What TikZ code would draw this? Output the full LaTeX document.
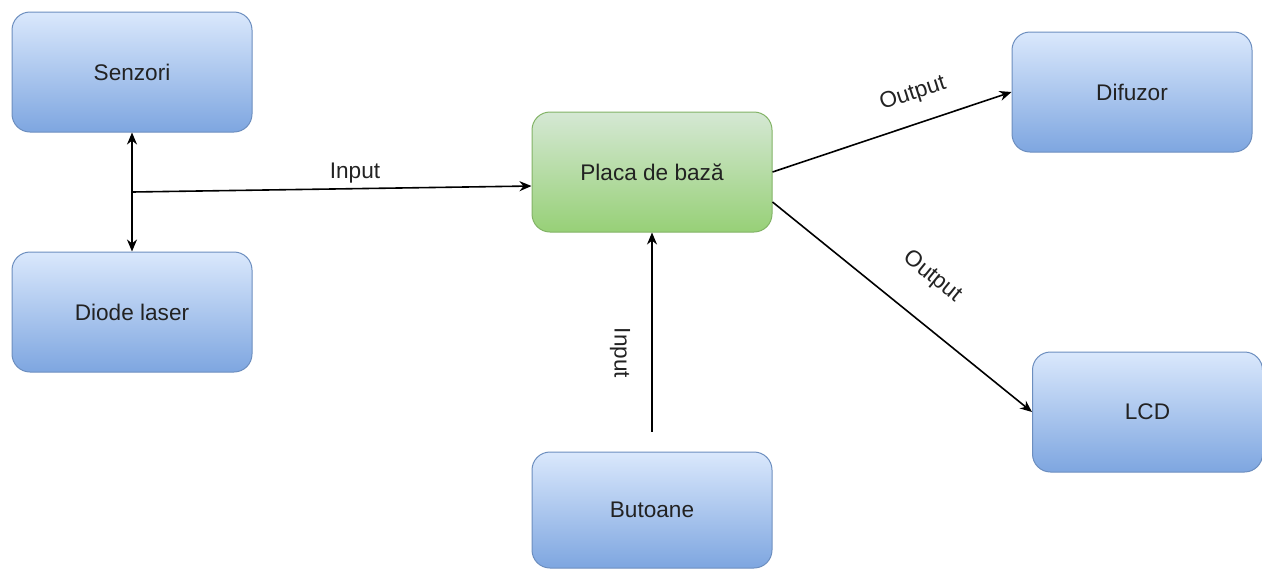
\documentclass[tikz,border=0pt]{standalone}
\usepackage{fontspec}
\setmainfont{Liberation Sans}
\usetikzlibrary{arrows.meta}
\definecolor{bluetop}{HTML}{DAE8FC}
\definecolor{bluebot}{HTML}{7EA6E0}
\definecolor{blueline}{HTML}{6C8EBF}
\definecolor{greentop}{HTML}{D5E8D4}
\definecolor{greenbot}{HTML}{97D077}
\definecolor{greenline}{HTML}{82B366}
\definecolor{txt}{HTML}{222222}
\begin{document}
\begin{tikzpicture}[x = 0.5pt, y = -0.5pt,
  font = \fontsize{11.3}{13.5}\selectfont,
  > = {Stealth[length = 6pt, width = 5pt]},
  bluebox/.style = {draw = blueline, line width = 0.5pt, rounded corners = 9pt,
    top color = bluetop, bottom color = bluebot, text = txt,
    minimum width = 120pt, minimum height = 60pt, inner sep = 0pt},
  greenbox/.style = {bluebox, draw = greenline,
    top color = greentop, bottom color = greenbot},
  lbl/.style = {text = txt, inner sep = 1pt},
  conn/.style = {line width = 0.8pt, ->}]
\useasboundingbox (0, 0) rectangle (1262, 569);

\node[bluebox] (senzori) at (132, 72) {Senzori};
\node[bluebox] (diode) at (132, 312) {Diode laser};
\node[greenbox] (placa) at (652, 172) {Placa de bază};
\node[bluebox] (difuzor) at (1132, 92) {Difuzor};
\node[bluebox, minimum width = 115pt] (lcd) at (1147.5, 412) {LCD};
\node[bluebox, minimum height = 58pt] (butoane) at (652, 510) {Butoane};

\draw[conn, <->] (senzori) -- (diode);
\coordinate (junct) at (132, 192);
\draw[conn] (junct) -- ([yshift = -7pt]placa.west);
\draw[conn] ([yshift = 10pt]butoane.north) -- (placa);
\draw[conn] (placa.east) -- (difuzor.west);
\draw[conn] ([yshift = -15pt]placa.east) -- (lcd.west);

\node[lbl] (inA) at (355, 173) {Input};
\node[lbl, rotate = -90] (inB) at (620, 353) {Input};
\node[lbl, rotate = 18] (outA) at (913, 94) {Output};
\node[lbl, rotate = -39] (outB) at (932, 277) {Output};
\end{tikzpicture}
\end{document}
